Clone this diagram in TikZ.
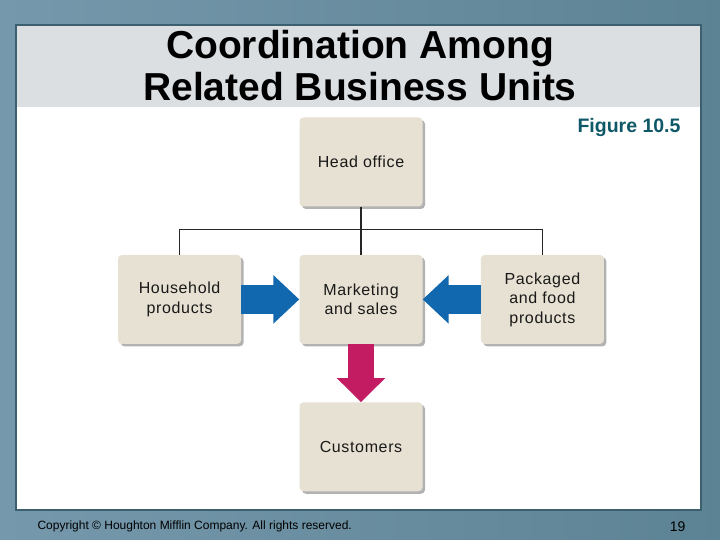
\documentclass[tikz,border=0pt]{standalone}
\usepackage{fontspec}
\setmainfont{Liberation Sans}
\newfontfamily\boxfont[LetterSpace=4]{Liberation Sans}
\usepackage{tikz}
\usetikzlibrary{positioning,arrows.meta,shadows}
\definecolor{slateL}{RGB}{118,152,172}
\definecolor{slateR}{RGB}{92,131,147}
\definecolor{panelrule}{RGB}{60,96,112}
\definecolor{titlegray}{RGB}{220,223,226}
\definecolor{beige}{RGB}{231,225,211}
\definecolor{figteal}{RGB}{14,88,104}
\definecolor{flowblue}{RGB}{18,104,175}
\definecolor{flowred}{RGB}{196,28,98}
\tikzset{
	unit/.style={
		fill=beige, rounded corners=4pt,
		minimum width=123pt, minimum height=89pt,
		inner sep=0pt, align=center, text=black!90,
		font=\boxfont\fontsize{16}{19.5}\selectfont,
		drop shadow={shadow xshift=2.5pt, shadow yshift=-2.5pt,
			fill=black, opacity=0.3}
	},
	tree/.style={draw=black!85, line width=1.6pt},
	flow_blue/.style={draw=flowblue, line width=29pt,
		-{Triangle[length=26pt,width=47pt]}},
	flow_red/.style={draw=flowred, line width=26pt,
		-{Triangle[length=24pt,width=47pt]}}
}
\begin{document}
\begin{tikzpicture}[x=1pt,y=-1pt]
	\useasboundingbox (0,0) rectangle (720,540);
	\shade[left color=slateL, right color=slateR] (0,0) rectangle (720,540);
	\draw[fill=white, draw=panelrule, line width=2pt] (16,25) rectangle (701,510);
	\fill[titlegray] (17,26) rectangle (700,107);
	\node[align=center, font=\bfseries\fontsize{39}{42}\selectfont] (title) at (360,66)
		{Coordination Among\\Related Business Units};
	\node[font=\bfseries\fontsize{19.5}{22}\selectfont, text=figteal, anchor=east] (fig) at (684,128) {Figure 10.5};
	\node[unit] (head) at (361,162) {Head office};
	\node[unit] (mkt) [below=48pt of head] {Marketing\\and sales};
	\node[unit] (house) [left=58pt of mkt] {Household\\products};
	\node[unit] (pack) [right=58pt of mkt] {Packaged\\and food\\products};
	\node[unit] (cust) [below=58pt of mkt] {Customers};
	\draw[tree] (head.south) -- ++(0,23) coordinate (split);
	\draw[tree] (split) -| (house.north);
	\draw[tree] (split) -| (pack.north);
	\draw[tree] (split) -- (mkt.north);
	\draw[flow_blue] (house.east) -- (mkt.west);
	\draw[flow_blue] (pack.west) -- (mkt.east);
	\draw[flow_red] (mkt.south) -- (cust.north);
	\node[anchor=west, font=\fontsize{12}{14}\selectfont] (copy) at (34,526)
		{Copyright \textcopyright\ Houghton Mifflin Company. All rights reserved.};
	\node[anchor=east, font=\fontsize{14}{16}\selectfont] (page) at (689,527) {19};
\end{tikzpicture}
\end{document}
